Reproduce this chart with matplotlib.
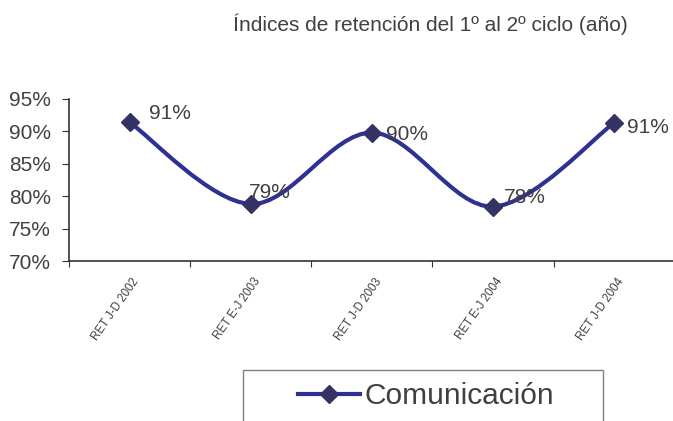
import numpy as np
import matplotlib
matplotlib.use("Agg")
import matplotlib.pyplot as plt
from matplotlib.path import Path
from matplotlib.patches import PathPatch, Rectangle
from matplotlib.lines import Line2D

plt.rcParams["font.family"] = ["Liberation Sans", "DejaVu Sans"]

# data
categories = ["RET J-D 2002", "RET E-J 2003", "RET J-D 2003", "RET E-J 2004", "RET J-D 2004"]
values = [91.4, 78.8, 89.8, 78.4, 91.3]
series_name = "Comunicación"
title = "Índices de retención del 1º al 2º ciclo (año)"
y_ticks = [70, 75, 80, 85, 90, 95]

text_color = "#404040"
line_color = "#2E3192"
marker_color = "#333366"

fig = plt.figure(figsize=(6.73, 4.21), dpi=100)
ax = fig.add_axes([0.1025, 0.38, 0.9, 0.385])

x = np.arange(len(values))
y = np.array(values)

# smoothed line as Bezier curves (Excel-style smoothing)
verts = [(x[0], y[0])]
codes = [Path.MOVETO]
n = len(x)
for i in range(n - 1):
    p0 = (x[max(i - 1, 0)], y[max(i - 1, 0)])
    p1 = (x[i], y[i])
    p2 = (x[i + 1], y[i + 1])
    p3 = (x[min(i + 2, n - 1)], y[min(i + 2, n - 1)])
    c1 = (p1[0] + (p2[0] - p0[0]) / 6, p1[1] + (p2[1] - p0[1]) / 6)
    c2 = (p2[0] - (p3[0] - p1[0]) / 6, p2[1] - (p3[1] - p1[1]) / 6)
    verts += [c1, c2, p2]
    codes += [Path.CURVE4] * 3
ax.add_patch(PathPatch(Path(verts, codes), facecolor="none", edgecolor=line_color,
                       linewidth=3, capstyle="round", zorder=2))
ax.plot(x, y, linestyle="none", marker="D", markersize=9.5,
        markerfacecolor=marker_color, markeredgecolor=marker_color, zorder=3)

# data labels
label_offsets = [(14, 6), (-1.5, 8.5), (10, -1.5), (8, 6.5), (9.5, -3.5)]
for xi, yi, off in zip(x, y, label_offsets):
    ax.annotate(f"{yi:.0f}%", (xi, yi), xytext=off, textcoords="offset points",
                fontsize=15, color=text_color, ha="left", va="center", zorder=4)

ax.set_xlim(-0.5, len(values) - 0.5)
ax.set_ylim(70, 95)
ax.set_yticks(y_ticks)
ax.set_yticklabels([f"{t}%" for t in y_ticks], fontsize=15, color=text_color)

# tick marks between categories, labels under each point
ax.set_xticks(np.arange(len(categories) + 1) - 0.5)
ax.set_xticklabels([])
for xi, cat in zip(x, categories):
    ax.text(xi + 0.02, -0.09, cat, transform=ax.get_xaxis_transform(),
            rotation=55, rotation_mode="anchor", ha="right", va="top",
            fontsize=8.3, color=text_color)

for s in ["top", "right"]:
    ax.spines[s].set_visible(False)
for s in ["left", "bottom"]:
    ax.spines[s].set_color("#333333")
    ax.spines[s].set_linewidth(1.2)
ax.tick_params(axis="y", length=5, color="#333333", pad=8)
ax.tick_params(axis="x", length=4, color="#333333")

fig.text(0.639, 0.943, title, ha="center", va="center", fontsize=15, color=text_color)

# legend box
fig.add_artist(Rectangle((243 / 673, -0.1), 360 / 673, 0.1 + (1 - 370 / 421),
                         transform=fig.transFigure, facecolor="white",
                         edgecolor="#808080", linewidth=1))
handle = Line2D([], [], color=line_color, linewidth=3, marker="D", markersize=9.5,
                markerfacecolor=marker_color, markeredgecolor=marker_color)
fig.legend([handle], [series_name], loc="center", bbox_to_anchor=(426 / 673, 0.059),
           frameon=False, fontsize=21.5, handlelength=2.1, handletextpad=0.15,
           labelcolor=text_color)

fig.savefig("out.png", dpi=100, facecolor="white")
